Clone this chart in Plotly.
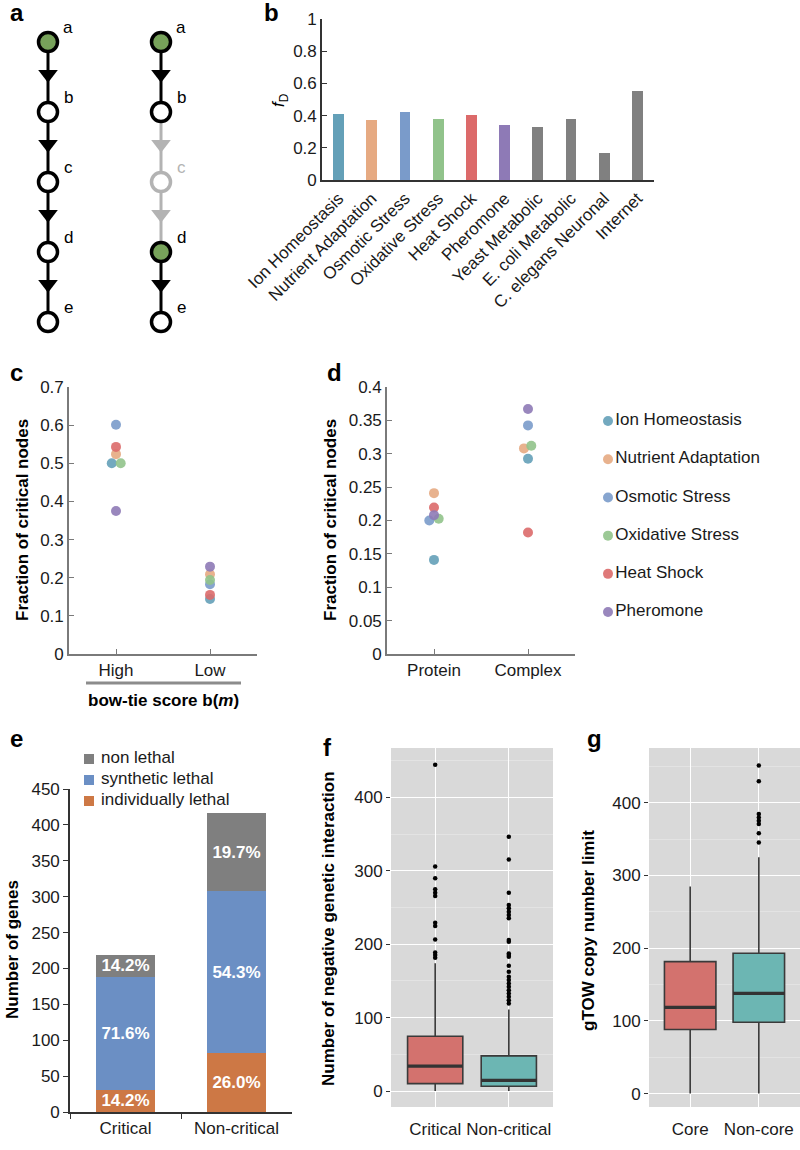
import plotly.graph_objects as go

FONT = "Liberation Sans, Arial, sans-serif"
W, H = 800, 1150

# ---- panel a: toy cascade ----
node_names = ['a', 'b', 'c', 'd', 'e']
left_fill = ['#77a25a', 'white', 'white', 'white', 'white']
right_fill = ['#77a25a', 'white', 'white', '#77a25a', 'white']
right_line = ['black', 'black', '#b3b3b3', 'black', 'black']
right_edge = ['black', '#b3b3b3', '#b3b3b3', 'black']

# ---- panel b ----
pathways = ['Ion Homeostasis', 'Nutrient Adaptation', 'Osmotic Stress',
            'Oxidative Stress', 'Heat Shock', 'Pheromone']
pathway_colors = ['#64a0b8', '#e6aa82', '#7a9bca', '#91c38b', '#dc6a6a', '#8e7ab6']
networks = pathways + ['Yeast Metabolic', 'E. coli Metabolic', 'C. elegans Neuronal', 'Internet']
network_colors = pathway_colors + ['#808080'] * 4
f_d = [0.41, 0.37, 0.42, 0.38, 0.405, 0.34, 0.33, 0.38, 0.165, 0.55]

# ---- panel c ----
bowtie_groups = ['High', 'Low']
c_high = [0.50, 0.524, 0.601, 0.50, 0.543, 0.375]
c_low = [0.144, 0.209, 0.183, 0.194, 0.155, 0.229]
c_jit_high = [-0.045, 0, 0, 0.05, 0, 0]
c_jit_low = [0, 0, 0, 0, 0, 0]

# ---- panel d ----
d_groups = ['Protein', 'Complex']
d_protein = [0.141, 0.241, 0.200, 0.2025, 0.2195, 0.208]
d_complex = [0.2925, 0.308, 0.3425, 0.312, 0.182, 0.367]
d_jit_protein = [0, 0, -0.05, 0.05, 0, 0]
d_jit_complex = [0, -0.043, 0, 0.035, 0, 0]

# ---- panel e ----
e_groups = ['Critical', 'Non-critical']
e_classes = ['individually lethal', 'synthetic lethal', 'non lethal']
e_colors = ['#cd7845', '#6b8fc4', '#7f7f7f']
indiv = [31, 82]
synth = [157, 226]
nonleth = [31, 108]
indiv_lbl = ['14.2%', '26.0%']
synth_lbl = ['71.6%', '54.3%']
non_lbl = ['14.2%', '19.7%']

# ---- panel f ----
f_groups = ['Critical', 'Non-critical']
f_q1 = [10, 6.4]
f_med = [34, 14.6]
f_q3 = [74.7, 47.8]
f_lo = [0, 0]
f_hi = [174, 111]
f_out = [
    [444.6, 305.8, 289.9, 274.9, 270.3, 265.8, 229.4, 224.8, 206.6, 188.9, 185.2, 181.6],
    [346.3, 315.4, 270.3, 253.5, 248.9, 244.4, 239.8, 235.3, 205.7, 203.4, 187.5, 185.2,
     182.9, 170.6, 162.5, 155.6, 151.1, 146.5, 142.0, 137.4, 132.9, 128.3, 123.8, 119.2],
]

# ---- panel g ----
g_groups = ['Core', 'Non-core']
g_q1 = [88.2, 98]
g_med = [118.5, 137.8]
g_q3 = [181.4, 192.9]
g_lo = [0, 0]
g_hi = [284.7, 325]
g_out = [
    [],
    [451.4, 429.4, 384.4, 379.8, 375.2, 370.6, 358.2, 345.4],
]

box_colors = ['#d3726e', '#6cb6b3']


def xd(p0, p1):
    return [p0 / W, p1 / W]


def yd(top, bottom):
    return [1 - bottom / H, 1 - top / H]


fig = go.Figure()

# panel a
levels = list(range(len(node_names)))
for i in range(len(node_names) - 1):
    fig.add_trace(go.Scatter(x=[0, 0], y=[i, i + 1], mode='lines',
                             line=dict(color='black', width=3), xaxis='x', yaxis='y',
                             showlegend=False, hoverinfo='skip'))
    fig.add_trace(go.Scatter(x=[1, 1], y=[i, i + 1], mode='lines',
                             line=dict(color=right_edge[i], width=3), xaxis='x', yaxis='y',
                             showlegend=False, hoverinfo='skip'))
fig.add_trace(go.Scatter(x=[0] * 4 + [1] * 4, y=[l + 0.46 for l in levels[:-1]] * 2,
                         mode='markers', xaxis='x', yaxis='y',
                         marker=dict(symbol='triangle-down', size=17,
                                     color=['black'] * 4 + right_edge, line=dict(width=0)),
                         showlegend=False, hoverinfo='skip'))
fig.add_trace(go.Scatter(x=[0] * 5 + [1] * 5, y=levels * 2, mode='markers',
                         xaxis='x', yaxis='y',
                         marker=dict(size=19, color=left_fill + right_fill,
                                     line=dict(width=3.5, color=['black'] * 5 + right_line)),
                         showlegend=False, hoverinfo='skip'))

# panel b
fig.add_trace(go.Bar(x=list(range(len(networks))), y=f_d, marker_color=network_colors,
                     width=0.33, xaxis='x2', yaxis='y2', showlegend=False))

# panel c / d scatter
for k, name in enumerate(pathways):
    fig.add_trace(go.Scatter(x=[0 + c_jit_high[k], 1 + c_jit_low[k]], y=[c_high[k], c_low[k]],
                             mode='markers', xaxis='x3', yaxis='y3', showlegend=False,
                             marker=dict(size=10, color=pathway_colors[k], opacity=0.9)))
    fig.add_trace(go.Scatter(x=[0 + d_jit_protein[k], 1 + d_jit_complex[k]],
                             y=[d_protein[k], d_complex[k]],
                             mode='markers', xaxis='x4', yaxis='y4', showlegend=False,
                             marker=dict(size=10, color=pathway_colors[k], opacity=0.9)))
# manual legend for d
fig.add_trace(go.Scatter(x=[0] * len(pathways), y=list(range(len(pathways))),
                         mode='markers+text', text=pathways, textposition='middle right',
                         textfont=dict(size=17, color='#1a1a1a'),
                         marker=dict(size=10, color=pathway_colors, opacity=0.9),
                         xaxis='x5', yaxis='y5', showlegend=False, hoverinfo='skip'))

# panel e
for vals, lbl, name, col in zip([indiv, synth, nonleth], [indiv_lbl, synth_lbl, non_lbl],
                                e_classes, e_colors):
    fig.add_trace(go.Bar(x=e_groups, y=vals, name=name, marker_color=col, width=0.54,
                         text=lbl, textposition='inside', insidetextanchor='middle',
                         constraintext='none', textangle=0, showlegend=False,
                         textfont=dict(size=17, color='white', family=FONT, weight='bold'),
                         xaxis='x6', yaxis='y6'))
# manual legend for e (top item first)
fig.add_trace(go.Scatter(x=[0] * 3, y=list(range(3)), mode='markers',
                         marker=dict(symbol='square', size=10, color=e_colors[::-1]),
                         xaxis='x9', yaxis='y9', showlegend=False, hoverinfo='skip'))
fig.add_trace(go.Scatter(x=[0.6] * 3, y=list(range(3)), mode='text',
                         text=e_classes[::-1], textposition='middle right',
                         textfont=dict(size=17, color='#1a1a1a'),
                         xaxis='x9', yaxis='y9', showlegend=False, hoverinfo='skip'))

# panels f and g
for xa, ya, q1, med, q3, lo, hi, outs in [('x7', 'y7', f_q1, f_med, f_q3, f_lo, f_hi, f_out),
                                          ('x8', 'y8', g_q1, g_med, g_q3, g_lo, g_hi, g_out)]:
    for i in range(2):
        fig.add_trace(go.Box(x=[i], q1=[q1[i]], median=[med[i]], q3=[q3[i]],
                             lowerfence=[lo[i]], upperfence=[hi[i]], width=0.75,
                             fillcolor=box_colors[i], line=dict(color='#3a3a3a', width=1.6),
                             whiskerwidth=0, boxpoints=False, xaxis=xa, yaxis=ya,
                             showlegend=False, hoverinfo='skip'))
        fig.add_trace(go.Scatter(x=[i - 0.375, i + 0.375], y=[med[i], med[i]], mode='lines',
                                 line=dict(color='#333333', width=3.2), xaxis=xa, yaxis=ya,
                                 showlegend=False, hoverinfo='skip'))
        if outs[i]:
            fig.add_trace(go.Scatter(x=[i] * len(outs[i]), y=outs[i], mode='markers',
                                     marker=dict(size=4.5, color='black'), xaxis=xa, yaxis=ya,
                                     showlegend=False, hoverinfo='skip'))

tickf = dict(family=FONT, size=17, color='#1a1a1a')
hidden = dict(visible=False, showgrid=False, zeroline=False, automargin=False)
classic = dict(showline=True, linecolor='#7a7a7a', linewidth=1.6, showgrid=False,
               zeroline=False, tickfont=tickf, tickcolor='#7a7a7a', ticklen=5,
               automargin=False)
gg_y = dict(showline=False, zeroline=False, showgrid=True, gridcolor='white', gridwidth=1.3,
            dtick=100, tick0=0, ticks='outside', ticklen=4, tickcolor='#333333',
            tickfont=tickf, automargin=False,
            minor=dict(dtick=50, tick0=0, showgrid=True, gridcolor='#e3e3e3', gridwidth=0.8))
gg_x = dict(showline=False, zeroline=False, showgrid=True, gridcolor='white', gridwidth=1.3,
            range=[-0.6, 1.6], tickvals=[0, 1], ticks='', tickfont=tickf, tickangle=0,
            ticklabelstandoff=10, automargin=False)

fig.update_layout(
    template='none',
    width=W, height=H, margin=dict(l=0, r=0, t=0, b=0, pad=0),
    paper_bgcolor='white', plot_bgcolor='rgba(0,0,0,0)',
    font=dict(family=FONT, size=17, color='#1a1a1a'),
    barmode='stack', showlegend=False,
    xaxis=dict(domain=xd(0, 200), range=[-48 / 113, 152 / 113], **hidden),
    yaxis=dict(domain=yd(0, 340), range=[298 / 70, -42 / 70], **hidden),
    xaxis2=dict(domain=xd(322, 654), range=[-0.5, 9.5], tickvals=list(range(10)),
                ticktext=networks, tickangle=-45, ticks='', anchor='y2',
                **{**classic, 'linecolor': '#333333'}),
    yaxis2=dict(domain=yd(19, 180), range=[0, 1], dtick=0.2, ticks='inside', anchor='x2',
                **{**classic, 'linecolor': '#333333', 'tickcolor': '#333333'}),
    xaxis3=dict(domain=xd(69, 257), range=[-0.5, 1.5], tickvals=[0, 1], ticktext=bowtie_groups,
                ticks='inside', anchor='y3', **classic),
    yaxis3=dict(domain=yd(387, 654), range=[0, 0.7], dtick=0.1, ticks='inside', anchor='x3',
                **classic),
    xaxis4=dict(domain=xd(387, 575), range=[-0.5, 1.5], tickvals=[0, 1], ticktext=d_groups,
                ticks='inside', anchor='y4', **classic),
    yaxis4=dict(domain=yd(387, 654), range=[0, 0.4], dtick=0.05, ticks='inside', anchor='x4',
                **classic),
    xaxis5=dict(domain=xd(600, 800), range=[-0.4, 9.6], anchor='y5', **hidden),
    yaxis5=dict(domain=yd(400, 630), range=[5.47, -0.55], anchor='x5', **hidden),
    xaxis6=dict(domain=xd(70, 292), tickson='boundaries', ticks='outside', anchor='y6',
                range=[-0.5, 1.5], **{**classic, 'linecolor': '#333333', 'tickcolor': '#333333'}),
    yaxis6=dict(domain=yd(789, 1112), range=[0, 450], dtick=50, ticks='outside', anchor='x6',
                **{**classic, 'linecolor': '#333333', 'tickcolor': '#333333'}),
    xaxis7=dict(domain=xd(391, 553), anchor='y7', ticktext=f_groups, **gg_x),
    yaxis7=dict(domain=yd(748, 1107), range=[-21.8, 467.4], anchor='x7', **gg_y),
    xaxis8=dict(domain=xd(649, 800), anchor='y8', ticktext=g_groups, **gg_x),
    yaxis8=dict(domain=yd(748, 1107), range=[-18.5, 475.3], anchor='x8', **gg_y),
    xaxis9=dict(domain=xd(79, 279), range=[-0.5, 9.5], anchor='y9', **hidden),
    yaxis9=dict(domain=yd(749.5, 810.5), range=[2.45, -0.45], anchor='x9', **hidden),
)

# grey ggplot panels
for ax in ['7', '8']:
    fig.add_shape(type='rect', xref=f'x{ax} domain', yref=f'y{ax} domain', x0=0, x1=1,
                  y0=0, y1=1, fillcolor='#d9d9d9', line=dict(width=0), layer='below')

# bow-tie bracket line
fig.add_shape(type='line', xref='paper', yref='paper', x0=86 / W, x1=241 / W,
              y0=1 - 683 / H, y1=1 - 683 / H, line=dict(color='#8c8c8c', width=3))

ann = []
# panel letters
for letter, px, py in [('a', 8, 12), ('b', 262, 13), ('c', 8, 372), ('d', 325, 372),
                       ('e', 8, 738), ('f', 321, 747), ('g', 585, 738)]:
    ann.append(dict(text=f'<b>{letter}</b>', x=px / W, y=1 - py / H, xref='paper', yref='paper',
                    showarrow=False, xanchor='left', yanchor='middle',
                    font=dict(size=24, color='black')))
# node labels for panel a
for col in [0, 1]:
    for i, nm in enumerate(node_names):
        c = right_line[i] if col == 1 else 'black'
        ann.append(dict(text=nm, x=col, y=i, xref='x', yref='y', showarrow=False,
                        xshift=20, yshift=15, font=dict(size=17, color=c)))
# y titles
for txt, px, py in [('<i>f</i><sub>D</sub>', 280, 100),
                    ('<b>Fraction of critical nodes</b>', 22, 520),
                    ('<b>Fraction of critical nodes</b>', 330, 520),
                    ('<b>Number of genes</b>', 12, 950),
                    ('<b>Number of negative genetic interaction</b>', 328, 929),
                    ('<b>gTOW copy number limit</b>', 588, 931)]:
    ann.append(dict(text=txt, x=px / W, y=1 - py / H, xref='paper', yref='paper',
                    showarrow=False, textangle=-90, xanchor='center', yanchor='middle',
                    font=dict(size=17, color='black')))
ann.append(dict(text='<b>bow-tie score b(<i>m</i>)</b>', x=163 / W, y=1 - 700 / H,
                xref='paper', yref='paper', showarrow=False, xanchor='center',
                yanchor='middle', font=dict(size=17, color='black')))
fig.update_layout(annotations=ann)

fig.write_html("out.html", config={'displayModeBar': False},
               post_script="document.body.style.margin='0';")
